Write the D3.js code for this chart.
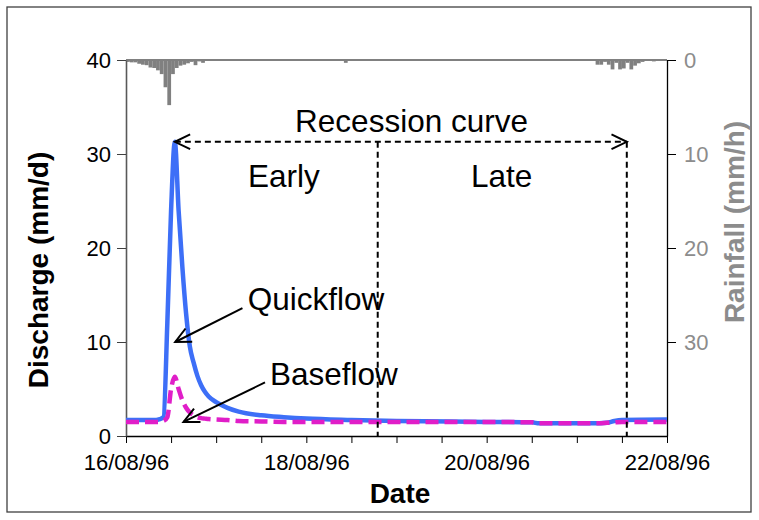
<!DOCTYPE html>
<html>
<head>
<meta charset="utf-8">
<script src="https://cdn.jsdelivr.net/npm/d3@7"></script>
<style>
  body { margin: 0; background: #fff; }
  svg { font-family: "Liberation Sans", Arial, sans-serif; }
</style>
</head>
<body>
<div id="chart"></div>
<script>
// hours after 16/08/96 00:00
const flowHours = [0, 8, 9, 10, 11, 12, 13, 14, 15, 16, 17, 18, 19, 20, 21, 22, 24, 27, 30, 36, 42, 48, 60, 72, 96, 108, 110, 126, 128, 130, 132, 144];
const quickflow = [1.7, 1.7, 1.8, 2.0, 12, 24, 31.3, 24, 18, 13, 9.5, 7.8, 6.4, 5.4, 4.7, 4.2, 3.6, 3.0, 2.6, 2.2, 2.0, 1.85, 1.7, 1.6, 1.5, 1.45, 1.35, 1.35, 1.4, 1.6, 1.7, 1.75];
const baseflow = [1.5, 1.5, 1.5, 1.6, 2.0, 5.0, 6.3, 5.0, 3.8, 3.0, 2.5, 2.2, 2.0, 1.9, 1.85, 1.8, 1.75, 1.7, 1.6, 1.55, 1.5, 1.5, 1.5, 1.5, 1.5, 1.45, 1.35, 1.35, 1.4, 1.45, 1.5, 1.5];

const rainHours = [0, 1, 2, 3, 4, 5, 6, 7, 8, 9, 10, 11, 12, 13, 14, 15, 16, 17, 18, 19, 20, 21, 58, 125, 126, 127, 128, 129, 130, 131, 132, 133, 134, 135, 136, 137, 138, 140];
const rainfall = [0.2, 0.25, 0.25, 0.4, 0.5, 0.55, 0.8, 0.85, 1.1, 1.5, 2.9, 4.8, 1.5, 0.85, 0.6, 0.5, 0.35, 0.2, 0.55, 0.15, 0.3, 0.1, 0.3, 0.5, 0.5, 0.2, 0.5, 1.0, 0.3, 1.0, 0.9, 0.3, 1.0, 0.6, 0.35, 0.2, 0.1, 0.15];

const dischargeTicks = [0, 10, 20, 30, 40];
const rainTicks = [0, 10, 20, 30];
const dateLabels = ["16/08/96", "18/08/96", "20/08/96", "22/08/96"];

const start = Date.UTC(1996, 7, 16);
const toDate = h => new Date(start + h * 3600e3);

const width = 759, height = 520;
const margin = { top: 60, right: 92, bottom: 84, left: 126 };

const svg = d3.select("#chart").append("svg")
  .attr("width", width)
  .attr("height", height);

// outer frame
svg.append("rect")
  .attr("x", 7).attr("y", 7)
  .attr("width", 744).attr("height", 505)
  .attr("fill", "none")
  .attr("stroke", "#404040")
  .attr("stroke-width", 1.3);

const x = d3.scaleUtc()
  .domain([toDate(0), toDate(144)])
  .range([margin.left, width - margin.right]);

const y = d3.scaleLinear()
  .domain([0, 40])
  .range([height - margin.bottom, margin.top]);

const yRain = d3.scaleLinear()
  .domain([0, 40])
  .range([margin.top, height - margin.bottom]);

// rainfall bars hanging from the top
svg.append("g")
  .selectAll("rect")
  .data(rainHours.map((h, i) => ({ h, v: rainfall[i] })))
  .enter()
  .append("rect")
  .attr("x", d => x(toDate(d.h)))
  .attr("width", d => x(toDate(d.h + 1)) - x(toDate(d.h)))
  .attr("y", yRain(0))
  .attr("height", d => yRain(d.v) - yRain(0))
  .attr("fill", "#808080");

svg.append("line")
  .attr("x1", x.range()[0]).attr("x2", x.range()[1])
  .attr("y1", yRain(0)).attr("y2", yRain(0))
  .attr("stroke", "#808080")
  .attr("stroke-width", 2);

// axes
const labelFmt = d3.utcFormat("%d/%m/%y");
const xAxis = svg.append("g")
  .attr("transform", `translate(0, ${y(0)})`)
  .call(d3.axisBottom(x)
    .ticks(d3.utcHour.every(12))
    .tickSize(7)
    .tickSizeOuter(0)
    .tickFormat(d => d.getUTCHours() === 0 && dateLabels.includes(labelFmt(d)) ? labelFmt(d) : ""));
xAxis.select(".domain").attr("stroke", "#000").attr("stroke-width", 1.3);
xAxis.selectAll("line").attr("stroke", "#000");
xAxis.selectAll("text")
  .attr("dy", "1.1em")
  .style("font-size", "22px")
  .style("fill", "#000");

const yAxis = svg.append("g")
  .attr("transform", `translate(${margin.left}, 0)`)
  .call(d3.axisLeft(y).tickValues(dischargeTicks).tickSize(9).tickSizeOuter(0).tickPadding(6));
yAxis.select(".domain").attr("stroke", "#595959").attr("stroke-width", 1.6);
yAxis.selectAll("line").attr("stroke", "#404040");
yAxis.selectAll("text")
  .style("font-size", "22px")
  .style("fill", "#000");

const rAxis = svg.append("g")
  .attr("transform", `translate(${width - margin.right}, 0)`)
  .call(d3.axisRight(yRain).tickValues(rainTicks).tickSize(9).tickSizeOuter(0).tickPadding(8));
rAxis.select(".domain").attr("stroke", "#000").attr("stroke-width", 1.3);
rAxis.selectAll("line").attr("stroke", "#000");
rAxis.selectAll("text")
  .style("font-size", "22px")
  .style("fill", "#8c8c8c");

// axis titles
svg.append("text")
  .attr("transform", "translate(48, 270) rotate(-90)")
  .attr("text-anchor", "middle")
  .style("font-size", "28px")
  .style("font-weight", "bold")
  .text("Discharge (mm/d)");

svg.append("text")
  .attr("transform", "translate(744, 222) rotate(-90)")
  .attr("text-anchor", "middle")
  .style("font-size", "28px")
  .style("font-weight", "bold")
  .style("fill", "#8c8c8c")
  .text("Rainfall (mm/h)");

svg.append("text")
  .attr("x", 400)
  .attr("y", 503)
  .attr("text-anchor", "middle")
  .style("font-size", "28px")
  .style("font-weight", "bold")
  .text("Date");

// flow lines
const line = d3.line()
  .x(d => x(toDate(d.h)))
  .y(d => y(d.v))
  .curve(d3.curveMonotoneX);

svg.append("path")
  .datum(flowHours.map((h, i) => ({ h, v: quickflow[i] })))
  .attr("d", line)
  .attr("fill", "none")
  .attr("stroke", "#3d6ff7")
  .attr("stroke-width", 4.5)
  .attr("stroke-linejoin", "round");

svg.append("path")
  .datum(flowHours.map((h, i) => ({ h, v: baseflow[i] })))
  .attr("d", line)
  .attr("fill", "none")
  .attr("stroke", "#e01ec8")
  .attr("stroke-width", 4.5)
  .attr("stroke-dasharray", "13,6");

// annotations
function arrowHead(g, x1, y1, x2, y2) {
  const a = Math.atan2(y2 - y1, x2 - x1);
  const len = 17, spread = 0.45;
  g.append("path")
    .attr("d", `M${x2 - len * Math.cos(a - spread)},${y2 - len * Math.sin(a - spread)}L${x2},${y2}L${x2 - len * Math.cos(a + spread)},${y2 - len * Math.sin(a + spread)}`)
    .attr("fill", "none")
    .attr("stroke", "#000")
    .attr("stroke-width", 2);
}

function arrow(h1, v1, h2, v2, dashed, twoHeads) {
  const g = svg.append("g");
  const x1 = x(toDate(h1)), y1 = y(v1), x2 = x(toDate(h2)), y2 = y(v2);
  g.append("line")
    .attr("x1", x1).attr("y1", y1).attr("x2", x2).attr("y2", y2)
    .attr("stroke", "#000")
    .attr("stroke-width", 2)
    .attr("stroke-dasharray", dashed ? "6,4" : null);
  arrowHead(g, x1, y1, x2, y2);
  if (twoHeads) arrowHead(g, x2, y2, x1, y1);
}

const peakHour = 13, recessionEnd = 133.3, splitHour = 67;
const recessionLevel = 31.3;

arrow(peakHour, recessionLevel, recessionEnd, recessionLevel, true, true);

[splitHour, recessionEnd].forEach(h => {
  svg.append("line")
    .attr("x1", x(toDate(h))).attr("x2", x(toDate(h)))
    .attr("y1", y(recessionLevel)).attr("y2", y(0))
    .attr("stroke", "#000")
    .attr("stroke-width", 2)
    .attr("stroke-dasharray", "6,4");
});

arrow(31, 13.6, 13.1, 10, false, false);
arrow(37, 5.7, 15.3, 1.5, false, false);

const notes = [
  { text: "Recession curve", h: 76, v: 32.3, anchor: "middle" },
  { text: "Early", h: 42, v: 26.5, anchor: "middle" },
  { text: "Late", h: 100, v: 26.5, anchor: "middle" },
  { text: "Quickflow", h: 32.4, v: 13.4, anchor: "start" },
  { text: "Baseflow", h: 38.3, v: 5.4, anchor: "start" }
];

svg.append("g")
  .selectAll("text")
  .data(notes)
  .enter()
  .append("text")
  .attr("x", d => x(toDate(d.h)))
  .attr("y", d => y(d.v))
  .attr("text-anchor", d => d.anchor)
  .style("font-size", "31.5px")
  .text(d => d.text);
</script>
</body>
</html>
